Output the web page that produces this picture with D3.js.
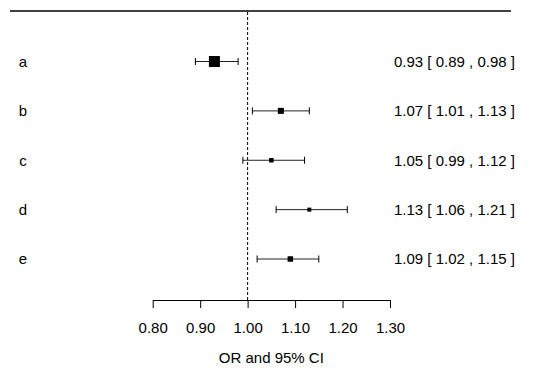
<!DOCTYPE html>
<html>
<head>
<meta charset="utf-8">
<script src="https://cdn.jsdelivr.net/npm/d3@7"></script>
<style>
  body { margin: 0; background: #fff; }
  svg text { font-family: "Liberation Sans", Arial, sans-serif; fill: #000; }
</style>
</head>
<body>
<div id="chart"></div>
<script>
// data
const labels = ["a", "b", "c", "d", "e"];
const estimates = [0.93, 1.07, 1.05, 1.13, 1.09];
const lower = [0.89, 1.01, 0.99, 1.06, 1.02];
const upper = [0.98, 1.13, 1.12, 1.21, 1.15];
const weights = [11, 6, 4.5, 4, 5.5]; // relative box size
const tickValues = [0.8, 0.9, 1.0, 1.1, 1.2, 1.3];

const width = 540, height = 373;

const svg = d3
  .select("#chart")
  .append("svg")
  .attr("width", width)
  .attr("height", height);

const x = d3.scaleLinear().domain([0.8, 1.3]).range([152.7, 390]);
const y = d3.scalePoint().domain(labels).range([61.5, 259]);
const box = d3.scaleLinear().domain([0, d3.max(weights)]).range([0, 11]);

const rows = labels.map((d, i) => ({
  label: d, est: estimates[i], lo: lower[i], hi: upper[i], w: weights[i]
}));

// top rule
svg.append("line")
  .attr("x1", 10).attr("x2", 511)
  .attr("y1", 11).attr("y2", 11)
  .attr("stroke", "#000").attr("stroke-width", 1.3);

// null line
svg.append("line")
  .attr("x1", x(1)).attr("x2", x(1))
  .attr("y1", 12).attr("y2", 300)
  .attr("stroke", "#000")
  .attr("stroke-dasharray", "3,2");

// x axis
const axis = svg.append("g")
  .attr("transform", "translate(0,300)")
  .call(d3.axisBottom(x)
    .tickValues(tickValues)
    .tickFormat(d3.format(".2f"))
    .tickSize(8)
    .tickSizeOuter(0)
    .tickPadding(14));
axis.select(".domain").attr("stroke", "#000");
axis.selectAll(".tick line").attr("stroke", "#000");
axis.selectAll("text").style("font-size", "15px").attr("fill", "#000")
  .attr("font-family", "Liberation Sans, Arial, sans-serif");

svg.append("text")
  .attr("x", x(1.05))
  .attr("y", 363)
  .attr("text-anchor", "middle")
  .style("font-size", "15px")
  .text("OR and 95% CI");

const g = svg.append("g").selectAll("g")
  .data(rows)
  .join("g")
  .attr("transform", (d) => `translate(0,${y(d.label)})`);

// whiskers
g.append("line")
  .attr("x1", (d) => x(d.lo)).attr("x2", (d) => x(d.hi))
  .attr("stroke", "#222");
g.append("line")
  .attr("x1", (d) => x(d.lo)).attr("x2", (d) => x(d.lo))
  .attr("y1", -3.5).attr("y2", 3.5)
  .attr("stroke", "#000");
g.append("line")
  .attr("x1", (d) => x(d.hi)).attr("x2", (d) => x(d.hi))
  .attr("y1", -3.5).attr("y2", 3.5)
  .attr("stroke", "#000");

// boxes
g.append("rect")
  .attr("x", (d) => x(d.est) - box(d.w) / 2)
  .attr("y", (d) => -box(d.w) / 2)
  .attr("width", (d) => box(d.w))
  .attr("height", (d) => box(d.w))
  .attr("fill", "#000");

// row labels
g.append("text")
  .attr("x", 23)
  .attr("dy", "0.35em")
  .attr("text-anchor", "middle")
  .style("font-size", "15px")
  .text((d) => d.label);

// estimate text
const f = d3.format(".2f");
g.append("text")
  .attr("x", 394)
  .attr("dy", "0.35em")
  .style("font-size", "15px")
  .text((d) => `${f(d.est)} [ ${f(d.lo)} , ${f(d.hi)} ]`);
</script>
</body>
</html>
